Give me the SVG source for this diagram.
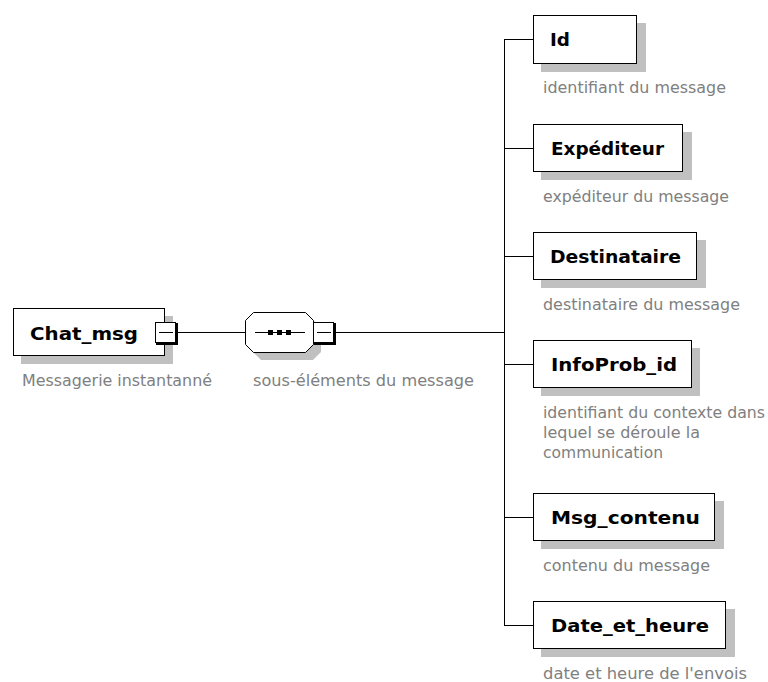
<svg xmlns="http://www.w3.org/2000/svg" width="768" height="682" viewBox="0 0 768 682">
<style>
.bg{fill:#ffffff}
.sh{fill:#c0c0c0;shape-rendering:crispEdges}
.box{fill:#ffffff;stroke:#000000;stroke-width:1;shape-rendering:crispEdges}
.ln{stroke:#000000;stroke-width:1;fill:none;shape-rendering:crispEdges}
.dot{fill:#000000;shape-rendering:crispEdges}
.nm{font-family:"DejaVu Sans",Verdana,sans-serif;font-weight:bold;font-size:18px;fill:#000000}
.ds{font-family:"DejaVu Sans",Tahoma,sans-serif;font-size:15px;fill:#808080}
</style>
<defs>
<g id="minus">
<rect x="1" y="1" width="22" height="22" fill="#000000" shape-rendering="crispEdges"/>
<rect x="0.5" y="0.5" width="20" height="20" class="box"/>
<line x1="4" y1="10.5" x2="18" y2="10.5" class="ln"/>
</g>
</defs>
<rect class="bg" x="0" y="0" width="768" height="682"/>
<g id="connectors">
<line class="ln" x1="177" y1="332.5" x2="245" y2="332.5"/>
<line class="ln" x1="335" y1="332.5" x2="504.5" y2="332.5"/>
<line class="ln" x1="504.5" y1="39.5" x2="504.5" y2="625.5"/>
<line class="ln" x1="504" y1="39.5" x2="534" y2="39.5"/>
<line class="ln" x1="504" y1="148.5" x2="534" y2="148.5"/>
<line class="ln" x1="504" y1="256.5" x2="534" y2="256.5"/>
<line class="ln" x1="504" y1="364.5" x2="534" y2="364.5"/>
<line class="ln" x1="504" y1="517.5" x2="534" y2="517.5"/>
<line class="ln" x1="504" y1="625.5" x2="534" y2="625.5"/>
</g>
<g id="node-chat_msg">
<rect class="sh" x="21" y="316" width="152" height="48"/>
<rect class="box" x="13.5" y="308.5" width="151" height="47"/>
<text class="nm" x="30" y="340" textLength="108" lengthAdjust="spacingAndGlyphs">Chat_msg</text>
<use href="#minus" x="155" y="322"/>
<text class="ds" x="22" y="386" textLength="190" lengthAdjust="spacingAndGlyphs">Messagerie instantanné</text>
</g>
<g id="node-sequence">
<polygon points="253,320 261,312 313,312 321,320 321,344 313,352 261,352 253,344" fill="#c0c0c0" transform="translate(0,8)"/>
<polygon points="245.5,320.5 253.5,312.5 305.5,312.5 313.5,320.5 313.5,344.5 305.5,352.5 253.5,352.5 245.5,344.5" fill="#ffffff" stroke="#000000" stroke-width="1"/>
<line class="ln" x1="255" y1="332.5" x2="305" y2="332.5"/>
<rect class="dot" x="268" y="330" width="5" height="5"/>
<rect class="dot" x="277" y="330" width="5" height="5"/>
<rect class="dot" x="286" y="330" width="5" height="5"/>
<use href="#minus" x="313" y="322"/>
<text class="ds" x="253" y="386" textLength="221" lengthAdjust="spacingAndGlyphs">sous-éléments du message</text>
</g>
<g id="node-id">
<rect class="sh" x="541" y="23" width="105" height="49"/>
<rect class="box" x="533.5" y="15.5" width="103" height="48"/>
<text class="nm" x="550" y="46" textLength="20" lengthAdjust="spacingAndGlyphs">Id</text>
<text class="ds" x="543" y="93" textLength="183" lengthAdjust="spacingAndGlyphs">identifiant du message</text>
</g>
<g id="node-expediteur">
<rect class="sh" x="541" y="132" width="151" height="48"/>
<rect class="box" x="533.5" y="124.5" width="149" height="47"/>
<text class="nm" x="551" y="155" textLength="113" lengthAdjust="spacingAndGlyphs">Expéditeur</text>
<text class="ds" x="543" y="202" textLength="186" lengthAdjust="spacingAndGlyphs">expéditeur du message</text>
</g>
<g id="node-destinataire">
<rect class="sh" x="541" y="240" width="165" height="48"/>
<rect class="box" x="533.5" y="232.5" width="163" height="47"/>
<text class="nm" x="550" y="263" textLength="131" lengthAdjust="spacingAndGlyphs">Destinataire</text>
<text class="ds" x="543" y="310" textLength="197" lengthAdjust="spacingAndGlyphs">destinataire du message</text>
</g>
<g id="node-infoprob_id">
<rect class="sh" x="541" y="348" width="159" height="48"/>
<rect class="box" x="533.5" y="340.5" width="158" height="47"/>
<text class="nm" x="551" y="371" textLength="126" lengthAdjust="spacingAndGlyphs">InfoProb_id</text>
<text class="ds" x="543" y="418" textLength="222" lengthAdjust="spacingAndGlyphs">identifiant du contexte dans</text>
<text class="ds" x="543" y="438" textLength="157" lengthAdjust="spacingAndGlyphs">lequel se déroule la</text>
<text class="ds" x="543" y="458" textLength="120" lengthAdjust="spacingAndGlyphs">communication</text>
</g>
<g id="node-msg_contenu">
<rect class="sh" x="541" y="501" width="183" height="48"/>
<rect class="box" x="533.5" y="493.5" width="181" height="47"/>
<text class="nm" x="551" y="524" textLength="149" lengthAdjust="spacingAndGlyphs">Msg_contenu</text>
<text class="ds" x="543" y="571" textLength="167" lengthAdjust="spacingAndGlyphs">contenu du message</text>
</g>
<g id="node-date_et_heure">
<rect class="sh" x="541" y="609" width="194" height="48"/>
<rect class="box" x="533.5" y="601.5" width="192" height="47"/>
<text class="nm" x="551" y="632" textLength="158" lengthAdjust="spacingAndGlyphs">Date_et_heure</text>
<text class="ds" x="543" y="679" textLength="204" lengthAdjust="spacingAndGlyphs">date et heure de l'envois</text>
</g>
</svg>
